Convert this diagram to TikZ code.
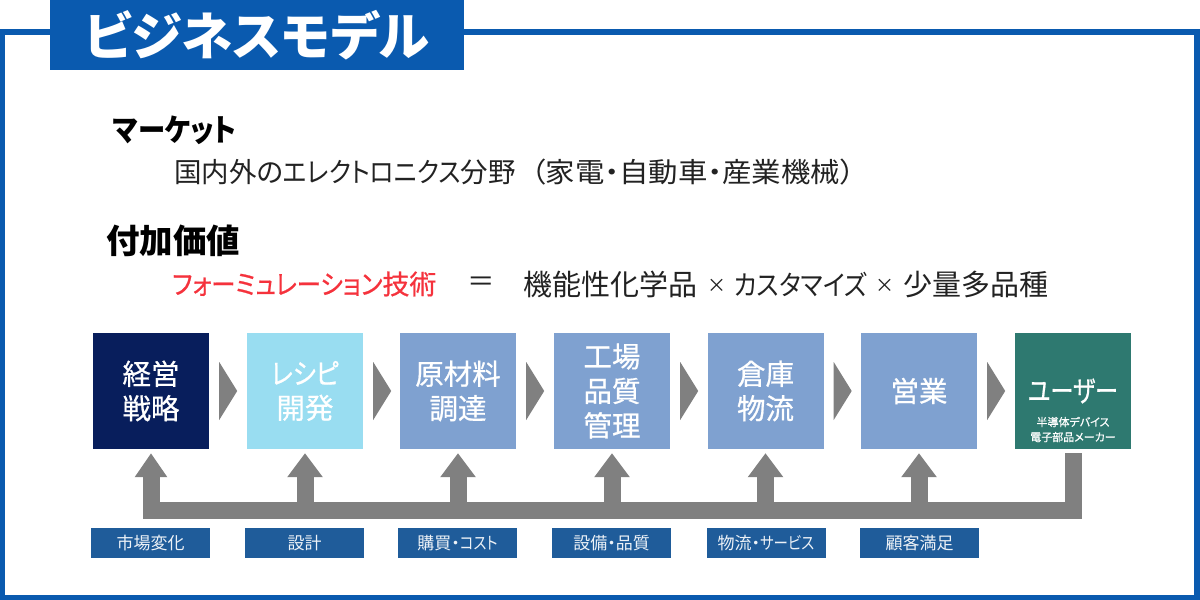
\documentclass[tikz,border=0pt]{standalone}
\usepackage{fontspec}
\usepackage{graphicx}
\newfontfamily\jp[RawFeature=+palt]{Noto Sans CJK JP}
\newfontfamily\jpm[RawFeature=+palt,FakeBold=0.7]{Noto Sans CJK JP}
\setmainfont{Noto Sans CJK JP}
\usetikzlibrary{calc,arrows.meta}
\definecolor{frameblue}{RGB}{10,90,175}
\definecolor{navy}{RGB}{8,30,92}
\definecolor{sky}{RGB}{153,221,241}
\definecolor{midblue}{RGB}{127,161,208}
\definecolor{teal2}{RGB}{46,121,112}
\definecolor{pipegray}{RGB}{128,128,128}
\definecolor{labelblue}{RGB}{31,92,154}
\definecolor{ink}{RGB}{34,34,34}
\definecolor{redtext}{RGB}{245,50,60}
\newcommand{\fs}[2]{\fontsize{#1}{#2}\selectfont}
\newcommand{\sq}[2]{\scalebox{#1}[1]{#2}}
\tikzset{
  x=1pt,y=-1pt,
  stagebox/.style={minimum width=116pt,minimum height=116pt,inner sep=0pt,text=white,align=center,font=\jpm\fs{28.5}{34.5}},
  tagbox/.style={minimum width=119pt,minimum height=30pt,inner sep=0pt,fill=labelblue,text=white!92!labelblue,font=\jp\fs{17}{18}},
  headtext/.style={anchor=west,inner sep=0pt,text=black,font=\jp\bfseries\fs{31}{34}},
  bodytext/.style={anchor=west,inner sep=0pt,text=ink,font=\jp\fs{27.5}{32}},
  pipe/.style={draw=pipegray,line width=17pt},
  uparrow/.style={pipe,shorten >=4pt,-{Triangle[length=24pt,width=34pt]}},
  chevron/.style={fill=pipegray,draw=none},
}
\begin{document}
\begin{tikzpicture}
\useasboundingbox[fill=white] (0,0) rectangle (1200,600);
\draw[frameblue,line width=5.5pt] (2.5,32) rectangle (1197,597.5);
\node[fill=frameblue,minimum width=414pt,minimum height=70pt,inner sep=0pt,text=white,font=\jp\bfseries\fs{51.5}{54}] (title) at (257,35) {ビジネスモデル\hspace{3pt}};

\node[headtext] (market) at (113,130) {\sq{.88}{マーケット}};
\node[bodytext] (marketbody) at (174,172) {国内外の\sq{.9}{エレクトロニクス}分野};
\node[bodytext] (marketparen) at (531,172) {\sq{1.07}{（家電・自動車・産業機械）}};
\node[headtext,font=\jp\bfseries\fs{33.5}{36}] (value) at (106,241) {付加価値};
\node[bodytext,text=redtext,font=\jpm\fs{27}{32}] (formula) at (172,284) {\sq{.9}{フォーミュレーション}技術};
\node[bodytext] (eq) at (467,284) {＝};
\node[bodytext,font=\jp\fs{29}{32}] (v1) at (523,284) {機能性化学品};
\node[bodytext,font=\jp\fs{19}{24}] (x1) at (707,286) {×};
\node[bodytext] (v2) at (734,284) {\sq{.9}{カスタマイズ}};
\node[bodytext,font=\jp\fs{19}{24}] (x2) at (875,286) {×};
\node[bodytext,font=\jp\fs{29}{32}] (v3) at (903,284) {少量多品種};

\node[stagebox,fill=navy] (s1) at (151,391) {経営\\戦略};
\node[stagebox,fill=sky] (s2) at (305,391) {\sq{.87}{レシピ}\\開発};
\node[stagebox,fill=midblue] (s3) at (458,391) {原材料\\調達};
\node[stagebox,fill=midblue] (s4) at (612,391) {工場\\品質\\管理};
\node[stagebox,fill=midblue] (s5) at (765.5,391) {倉庫\\物流};
\node[stagebox,fill=midblue] (s6) at (919,391) {営業};
\node[stagebox,fill=teal2] (s7) at (1073,391) {};
\node[inner sep=0pt,text=white,font=\jpm\fs{29}{32}] (user) at (1073,391) {\sq{.8}{ユーザー}};
\node[inner sep=0pt,text=white,align=center,font=\jpm\fs{11}{15}] (usersub) at (1073,429.5) {半導体デバイス\\電子部品メーカー};

\foreach \a in {s1,s2,s3,s4,s5,s6}{
  \fill[chevron] ($(\a.east)+(10,-29)$) -- ($(\a.east)+(28,0)$) -- ($(\a.east)+(10,29)$) -- cycle;
}

\coordinate (busleft) at (143,510);
\draw[pipe,shorten <=4pt] (s7.south) |- (busleft);
\foreach \a in {s2,s3,s4,s5,s6}{
  \draw[uparrow] (\a.south |- busleft) -- (\a.south);
}
\draw[pipe,shorten >=4pt,-{Triangle[length=24pt,width=31pt]}] ($(s1.south |- busleft)+(0,8)$) -- (s1.south);

\node[tagbox] (t1) at (150.5,543) {\raisebox{-1.5pt}{市場変化}};
\node[tagbox] (t2) at (304.5,543) {\raisebox{-1.5pt}{設計}};
\node[tagbox] (t3) at (457.5,543) {\raisebox{-1.5pt}{購買・\sq{.85}{コスト}}};
\node[tagbox] (t4) at (611.5,543) {\raisebox{-1.5pt}{設備・品質}};
\node[tagbox] (t5) at (766,543) {\raisebox{-1.5pt}{物流・\sq{.85}{サービス}}};
\node[tagbox] (t6) at (919.5,543) {\raisebox{-1.5pt}{顧客満足}};
\end{tikzpicture}
\end{document}
